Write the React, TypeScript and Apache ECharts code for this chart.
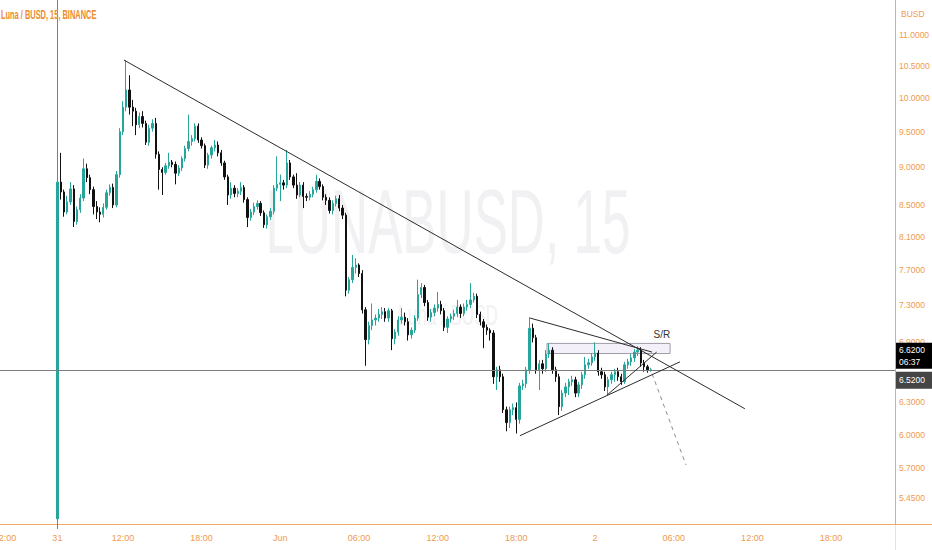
import React, { useEffect, useRef } from 'react';
import * as echarts from 'echarts';

// 15-minute bars are numbered from 31 May 00:00 (bar 0). The visible axis holds bars 11..283.
const SLOT_START = 11;
const SLOT_COUNT = 273;
const FIRST_BAR = 28; // 31 May 07:00, first candle after listing

// [open, close, low, high]
const candles: [number, number, number, number][] = [
  [5.28, 8.80, 5.20, 19.0], [8.80, 8.67, 8.57, 9.20], [8.67, 8.41, 8.35, 8.70], [8.41, 8.54, 8.38, 8.62],
  [8.54, 8.71, 8.50, 8.80], [8.71, 8.29, 8.22, 8.76], [8.29, 8.44, 8.25, 8.48], [8.44, 8.59, 8.40, 8.64],
  [8.59, 8.98, 8.55, 9.12], [8.98, 8.86, 8.80, 9.05], [8.86, 8.70, 8.64, 8.90], [8.70, 8.48, 8.38, 8.74],
  [8.48, 8.41, 8.32, 8.55], [8.41, 8.38, 8.28, 8.47], [8.38, 8.47, 8.34, 8.52], [8.47, 8.66, 8.44, 8.70],
  [8.66, 8.73, 8.62, 8.77], [8.73, 8.50, 8.46, 8.78], [8.50, 8.90, 8.47, 8.95], [8.90, 9.50, 8.86, 9.55],
  [9.50, 9.86, 9.45, 9.95], [9.86, 10.12, 9.80, 10.59], [10.12, 9.86, 9.75, 10.35], [9.86, 9.80, 9.58, 9.97],
  [9.80, 9.60, 9.45, 9.85], [9.60, 9.72, 9.55, 9.78], [9.72, 9.62, 9.56, 9.80], [9.62, 9.35, 9.31, 9.66],
  [9.35, 9.55, 9.30, 9.60], [9.55, 9.62, 9.50, 9.68], [9.62, 9.18, 9.12, 9.70], [9.18, 8.97, 8.70, 9.22],
  [8.97, 8.93, 8.63, 9.00], [8.93, 9.02, 8.90, 9.06], [9.02, 9.07, 8.98, 9.20], [9.07, 9.04, 9.00, 9.10],
  [9.04, 8.92, 8.77, 9.08], [8.92, 8.99, 8.88, 9.03], [8.99, 9.12, 8.95, 9.15], [9.12, 9.26, 9.08, 9.30],
  [9.26, 9.36, 9.22, 9.75], [9.36, 9.40, 9.30, 9.45], [9.40, 9.58, 9.36, 9.62], [9.58, 9.38, 9.34, 9.62],
  [9.38, 9.30, 9.26, 9.42], [9.30, 9.03, 8.99, 9.33], [9.03, 9.17, 8.98, 9.20], [9.17, 9.27, 9.12, 9.30],
  [9.27, 9.31, 9.22, 9.38], [9.31, 9.20, 9.15, 9.36], [9.20, 9.06, 9.02, 9.24], [9.06, 8.87, 8.83, 9.09],
  [8.87, 8.63, 8.50, 8.90], [8.63, 8.72, 8.58, 8.80], [8.72, 8.65, 8.60, 8.76], [8.65, 8.68, 8.60, 8.72],
  [8.68, 8.73, 8.63, 8.80], [8.73, 8.57, 8.53, 8.76], [8.57, 8.34, 8.22, 8.60], [8.34, 8.41, 8.30, 8.45],
  [8.41, 8.48, 8.37, 8.53], [8.48, 8.52, 8.44, 8.56], [8.52, 8.40, 8.36, 8.55], [8.40, 8.25, 8.21, 8.43],
  [8.25, 8.35, 8.20, 8.38], [8.35, 8.42, 8.31, 8.46], [8.42, 8.72, 8.38, 8.76], [8.72, 8.77, 8.68, 9.15],
  [8.77, 8.79, 8.55, 8.90], [8.79, 8.76, 8.70, 8.83], [8.76, 9.06, 8.72, 9.24], [9.06, 8.87, 8.83, 9.10],
  [8.87, 8.76, 8.72, 8.90], [8.76, 8.63, 8.58, 8.92], [8.63, 8.76, 8.60, 8.80], [8.76, 8.61, 8.46, 8.80],
  [8.61, 8.60, 8.55, 8.65], [8.60, 8.64, 8.56, 8.68], [8.64, 8.70, 8.60, 8.74], [8.70, 8.81, 8.66, 8.90],
  [8.81, 8.74, 8.70, 8.85], [8.74, 8.60, 8.56, 8.77], [8.60, 8.56, 8.50, 8.64], [8.56, 8.43, 8.39, 8.60],
  [8.43, 8.52, 8.38, 8.56], [8.52, 8.58, 8.48, 8.62], [8.58, 8.46, 8.42, 8.63], [8.46, 8.37, 8.32, 8.50],
  [8.37, 7.47, 7.40, 8.40], [7.47, 7.59, 7.43, 7.62], [7.59, 7.73, 7.55, 7.88], [7.73, 7.76, 7.66, 7.84],
  [7.76, 7.66, 7.62, 7.78], [7.66, 7.25, 7.21, 7.70], [7.25, 6.93, 6.66, 7.28], [6.93, 7.08, 6.88, 7.12],
  [7.08, 7.14, 7.03, 7.32], [7.14, 7.16, 7.08, 7.20], [7.16, 7.20, 7.12, 7.26], [7.20, 7.23, 7.15, 7.28],
  [7.23, 7.16, 7.12, 7.27], [7.16, 7.24, 7.12, 7.27], [7.24, 6.94, 6.82, 7.26], [6.94, 7.01, 6.88, 7.04],
  [7.01, 7.14, 6.97, 7.18], [7.14, 7.17, 7.10, 7.27], [7.17, 7.12, 7.08, 7.22], [7.12, 6.98, 6.92, 7.16],
  [6.98, 7.03, 6.94, 7.06], [7.03, 7.16, 7.00, 7.19], [7.16, 7.42, 7.13, 7.59], [7.42, 7.50, 7.38, 7.55],
  [7.50, 7.33, 7.29, 7.53], [7.33, 7.17, 7.13, 7.36], [7.17, 7.22, 7.12, 7.26], [7.22, 7.27, 7.18, 7.31],
  [7.27, 7.31, 7.23, 7.45], [7.31, 7.24, 7.20, 7.35], [7.24, 7.06, 7.02, 7.27], [7.06, 7.15, 7.00, 7.18],
  [7.15, 7.18, 7.11, 7.21], [7.18, 7.21, 7.14, 7.25], [7.21, 7.28, 7.17, 7.36], [7.28, 7.21, 7.16, 7.31],
  [7.21, 7.28, 7.18, 7.32], [7.28, 7.31, 7.24, 7.36], [7.31, 7.36, 7.27, 7.55], [7.36, 7.40, 7.33, 7.44],
  [7.40, 7.20, 7.16, 7.43], [7.20, 7.12, 7.08, 7.23], [7.12, 7.06, 6.84, 7.15], [7.06, 7.03, 6.98, 7.09],
  [7.03, 7.00, 6.92, 7.05], [7.00, 6.55, 6.48, 7.03], [6.55, 6.62, 6.42, 6.65],
  [6.62, 6.55, 6.50, 6.66], [6.55, 6.23, 6.20, 6.58], [6.23, 6.11, 6.03, 6.26], [6.11, 6.23, 6.06, 6.26],
  [6.23, 6.25, 6.18, 6.29], [6.25, 6.14, 6.01, 6.30], [6.14, 6.46, 6.10, 6.49], [6.46, 6.48, 6.42, 6.52],
  [6.48, 6.62, 6.44, 6.65], [6.62, 7.05, 6.58, 7.17], [7.05, 6.95, 6.90, 7.10], [6.95, 6.62, 6.58, 6.98],
  [6.62, 6.68, 6.42, 6.72], [6.68, 6.63, 6.58, 6.72], [6.63, 6.78, 6.60, 6.82], [6.78, 6.82, 6.74, 6.89],
  [6.82, 6.62, 6.58, 6.85], [6.62, 6.55, 6.50, 6.65], [6.55, 6.26, 6.18, 6.58], [6.26, 6.39, 6.22, 6.42],
  [6.39, 6.45, 6.35, 6.49], [6.45, 6.50, 6.37, 6.53], [6.50, 6.52, 6.46, 6.56], [6.52, 6.39, 6.35, 6.55],
  [6.39, 6.47, 6.35, 6.50], [6.47, 6.57, 6.43, 6.60], [6.57, 6.67, 6.53, 6.75], [6.67, 6.69, 6.63, 6.73],
  [6.69, 6.75, 6.66, 6.79], [6.75, 6.79, 6.71, 6.90], [6.79, 6.60, 6.56, 6.82], [6.60, 6.57, 6.53, 6.64],
  [6.57, 6.45, 6.41, 6.60], [6.45, 6.52, 6.37, 6.55], [6.52, 6.57, 6.48, 6.60], [6.57, 6.60, 6.50, 6.63],
  [6.60, 6.55, 6.51, 6.64], [6.55, 6.50, 6.47, 6.58], [6.50, 6.67, 6.48, 6.70], [6.67, 6.70, 6.63, 6.73],
  [6.70, 6.74, 6.66, 6.78], [6.74, 6.80, 6.70, 6.83], [6.80, 6.82, 6.76, 6.86], [6.82, 6.69, 6.65, 6.85],
  [6.69, 6.65, 6.60, 6.72], [6.65, 6.62, 6.59, 6.67], [6.62, 6.62, 6.60, 6.64],
];

const priceTicks = [11, 10.5, 10, 9.5, 9, 8.5, 8.1, 7.7, 7.3, 6.9, 6.3, 6.0, 5.7, 5.45];
const xTickBars = [12, 28, 48, 72, 96, 120, 144, 168, 192, 216, 240, 264];
const xTickTexts = ['12:00', '31', '12:00', '18:00', 'Jun', '06:00', '12:00', '18:00', '2', '06:00', '12:00', '18:00'];
const priceMin = 5.239;
const priceMax = 11.6;
const lastPrice = 6.62;
const markerPrice = 6.52;
const countdown = '06:37';

// drawings: [bar number, price]
const mainTrend: [number, number][] = [[48.3, 10.59], [237.7, 6.24]];
const wedgeTop: [number, number][] = [[172.2, 7.16], [209.4, 6.80]];
const wedgeBottom: [number, number][] = [[169.1, 5.99], [217.9, 6.70]];
const innerRise: [number, number][] = [[195.65, 6.37], [210.8, 6.80]];
const srZone: [number, number][] = [[177.35, 6.89], [214.9, 6.785]];
const srLabel: [number, number] = [212.4, 6.98];
const projection: [number, number][] = [[209.4, 6.58], [219.75, 5.73]];

const ORANGE_LINE = '#f2a768';
const ORANGE_TEXT = '#f09a4c';
const SANS = '"Liberation Sans", Arial, sans-serif';
const UP = '#26a69a';
const DOWN = '#111111';

const ln = Math.log;
const pad = (n: number) => (n < 10 ? '0' : '') + n;
const slotName = (bar: number) => {
  const day = ['05-31', '06-01', '06-02'][Math.floor(bar / 96)];
  const mins = (bar % 96) * 15;
  return `${day} ${pad(Math.floor(mins / 60))}:${pad(mins % 60)}`;
};

function buildOption() {
  const categories = Array.from({ length: SLOT_COUNT }, (_, s) => slotName(SLOT_START + s));
  const tickMap: Record<number, string> = {};
  xTickBars.forEach((b, k) => (tickMap[b - SLOT_START] = xTickTexts[k]));
  const candleData = candles.map((c, k) => [FIRST_BAR - SLOT_START + k, ln(c[0]), ln(c[1]), ln(c[2]), ln(c[3])]);
  const toXY = (pts: [number, number][]) => pts.map(([b, p]) => [b, ln(p)]);
  const drawLine = (pts: [number, number][], extra: any = {}) => ({
    type: 'line',
    xAxisIndex: 1,
    yAxisIndex: 0,
    data: toXY(pts),
    symbol: 'none',
    showSymbol: false,
    silent: true,
    z: 5,
    lineStyle: { color: '#2b2b2b', width: 1 },
    ...extra,
  });

  return {
    animation: false,
    backgroundColor: '#ffffff',
    grid: { left: 0, right: 37, top: 0, bottom: 26, containLabel: false, outerBoundsMode: 'none' },
    xAxis: [
      {
        type: 'category',
        data: categories,
        boundaryGap: true,
        axisLine: { show: true, lineStyle: { color: ORANGE_LINE, width: 1 } },
        axisTick: { show: false },
        splitLine: { show: false },
        axisLabel: {
          interval: (index: number) => tickMap[index] !== undefined,
          formatter: (_v: string, index: number) => tickMap[index] ?? '',
          color: ORANGE_TEXT,
          fontSize: 9,
          fontFamily: SANS,
          margin: 9,
        },
      },
      {
        type: 'value',
        min: SLOT_START - 0.5,
        max: SLOT_START + SLOT_COUNT - 0.5,
        show: false,
      },
    ],
    yAxis: {
      type: 'value',
      position: 'right',
      min: ln(priceMin),
      max: ln(priceMax),
      axisLine: { show: true, lineStyle: { color: ORANGE_LINE, width: 1 } },
      axisTick: { show: false },
      splitLine: { show: false },
      axisLabel: {
        customValues: priceTicks.map(ln),
        formatter: (v: number) => Math.exp(v).toFixed(4),
        color: ORANGE_TEXT,
        fontSize: 8.5,
        fontFamily: SANS,
        margin: 4,
      },
    },
    series: [
      {
        type: 'candlestick',
        xAxisIndex: 0,
        yAxisIndex: 0,
        data: candleData,
        encode: { x: 0, y: [1, 2, 3, 4] },
        barWidth: 1.8,
        clip: true,
        itemStyle: { color: UP, color0: DOWN, borderColor: UP, borderColor0: DOWN, borderWidth: 1 },
        markLine: {
          silent: true,
          symbol: 'none',
          label: { show: false },
          lineStyle: { color: '#7c7c7c', width: 1, type: 'solid' },
          data: [{ yAxis: ln(lastPrice) }],
        },
      },
      drawLine(mainTrend),
      drawLine(wedgeTop, {
        markArea: {
          silent: true,
          itemStyle: { color: 'rgba(214, 200, 232, 0.28)', borderColor: '#a09ca8', borderWidth: 1 },
          data: [[{ coord: [srZone[0][0], ln(srZone[0][1])] }, { coord: [srZone[1][0], ln(srZone[1][1])] }]],
        },
        markPoint: {
          silent: true,
          symbol: 'circle',
          symbolSize: 1,
          itemStyle: { color: 'rgba(0,0,0,0)' },
          label: { show: true, formatter: 'S/R', color: '#333333', fontSize: 10, fontFamily: SANS, position: 'inside' },
          data: [{ coord: [srLabel[0], ln(srLabel[1])] }],
        },
      }),
      drawLine(wedgeBottom),
      drawLine(innerRise, {
        markLine: {
          silent: true,
          symbol: ['none', 'arrow'],
          symbolSize: [0, 6],
          label: { show: false },
          lineStyle: { color: '#8e8e8e', width: 1, type: [4, 4] },
          data: [[{ coord: [projection[0][0], ln(projection[0][1])] }, { coord: [projection[1][0], ln(projection[1][1])] }]],
        },
      }),
    ],
  };
}

export default function App() {
  const ref = useRef<HTMLDivElement>(null);
  useEffect(() => {
    document.body.style.margin = '0';
    const chart = echarts.init(ref.current!, null, { renderer: 'svg' });
    chart.setOption(buildOption() as any);
    const yLast = chart.convertToPixel({ yAxisIndex: 0 }, ln(lastPrice)) as number;
    const yMark = chart.convertToPixel({ yAxisIndex: 0 }, ln(markerPrice)) as number;
    const axisX = 895;
    chart.setOption({
      graphic: [
        {
          type: 'text', x: 448, y: 222, z: -10, scaleX: 0.57, silent: true,
          style: { text: 'LUNABUSD, 15', fill: '#f1f1f3', font: '90px ' + SANS, align: 'center', verticalAlign: 'middle' },
        },
        {
          type: 'text', x: 448, y: 315, z: -10, scaleX: 0.57, silent: true,
          style: { text: 'Luna / BUSD', fill: '#f1f1f3', font: '30px ' + SANS, align: 'center', verticalAlign: 'middle' },
        },
        {
          type: 'text', x: 1, y: 15, z: 50, scaleX: 0.62, silent: true,
          style: { text: 'Luna / BUSD, 15, BINANCE', fill: '#ee8b2b', font: 'bold 12px ' + SANS, align: 'left', verticalAlign: 'middle' },
        },
        {
          type: 'text', x: 901, y: 14, z: 50, silent: true,
          style: { text: 'BUSD', fill: ORANGE_TEXT, font: '8.5px ' + SANS, align: 'left', verticalAlign: 'middle' },
        },
        { type: 'line', z: 40, silent: true, shape: { x1: axisX + 0.5, y1: 524, x2: axisX + 0.5, y2: 550 }, style: { stroke: '#fbdcc8', lineWidth: 1 } },
        { type: 'line', z: 40, silent: true, shape: { x1: axisX, y1: 524.5, x2: 932, y2: 524.5 }, style: { stroke: ORANGE_LINE, lineWidth: 1 } },
        { type: 'rect', z: 60, silent: true, shape: { x: axisX + 1, y: yMark - 37, width: 36, height: 26 }, style: { fill: '#000000' } },
        {
          type: 'text', x: 899, y: yMark - 30, z: 61, silent: true,
          style: { text: lastPrice.toFixed(4), fill: '#ffffff', font: '8.5px ' + SANS, align: 'left', verticalAlign: 'middle' },
        },
        {
          type: 'text', x: 899, y: yMark - 18, z: 61, silent: true,
          style: { text: countdown, fill: '#ffffff', font: '8.5px ' + SANS, align: 'left', verticalAlign: 'middle' },
        },
        { type: 'rect', z: 60, silent: true, shape: { x: axisX + 1, y: yMark - 8, width: 36, height: 17 }, style: { fill: '#454545' } },
        {
          type: 'text', x: 899, y: yMark + 0.5, z: 61, silent: true,
          style: { text: markerPrice.toFixed(4), fill: '#ffffff', font: '8.5px ' + SANS, align: 'left', verticalAlign: 'middle' },
        },
        { type: 'line', z: 40, silent: true, shape: { x1: axisX - 4, y1: Math.round(yLast) + 0.5, x2: axisX, y2: Math.round(yLast) + 0.5 }, style: { stroke: '#7c7c7c', lineWidth: 1 } },
      ],
    } as any);
    return () => chart.dispose();
  }, []);
  return <div ref={ref} style={{ width: 932, height: 550 }} />;
}
